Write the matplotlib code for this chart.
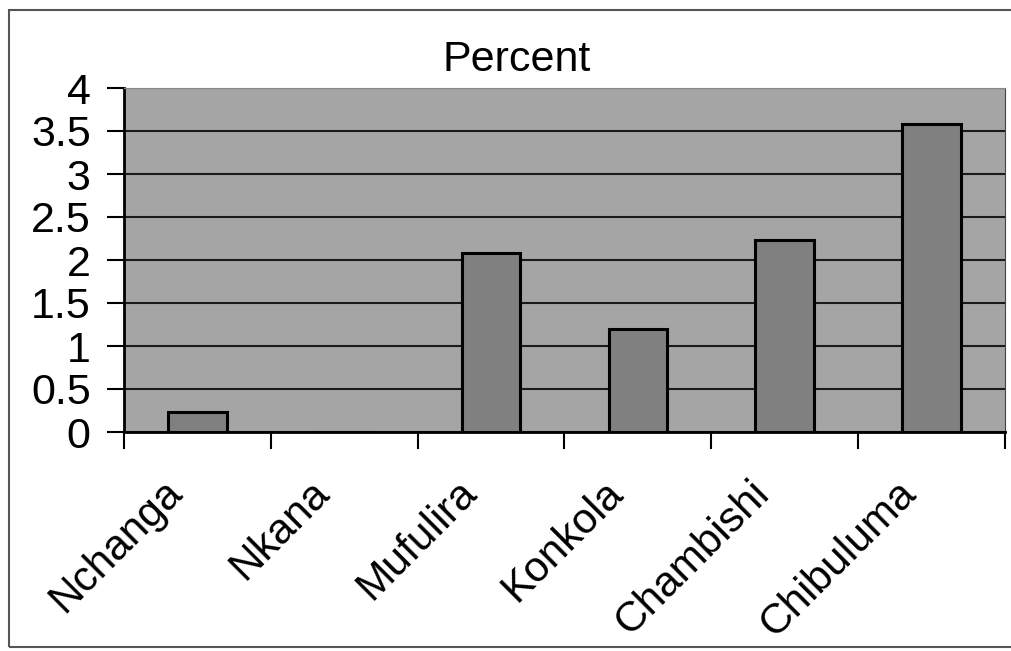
import matplotlib.pyplot as plt
from matplotlib.patches import Rectangle
from matplotlib.transforms import ScaledTranslation

plt.rcParams['font.family'] = ['Liberation Sans', 'DejaVu Sans']

mines = ['Nchanga', 'Nkana', 'Mufulira', 'Konkola', 'Chambishi', 'Chibuluma']
percent = [0.23, 0.0, 2.08, 1.2, 2.23, 3.58]
yticks = [0, 0.5, 1, 1.5, 2, 2.5, 3, 3.5, 4]
ytick_labels = ['0', '0.5', '1', '1.5', '2', '2.5', '3', '3.5', '4']

fig = plt.figure(figsize=(10.12, 6.51), dpi=100)
ax = fig.add_axes([124 / 1012, 1 - 432 / 651, (1005 - 124) / 1012, (432 - 88) / 651])
ax.set_facecolor('#a5a5a5')

x = list(range(len(mines)))
ax.bar(x, percent, width=0.4, color='#808080', edgecolor='black', linewidth=2.2, zorder=3)

ax.set_xlim(-0.5, len(mines) - 0.5)
ax.set_ylim(0, 4)
ax.set_yticks(yticks)
ax.set_yticklabels(ytick_labels, fontsize=31)
ax.yaxis.grid(True, color='#1a1a1a', linewidth=1.5, zorder=1)
ax.set_axisbelow(True)

# category labels sit between the boundary ticks
ax.set_xticks([i - 0.5 for i in range(len(mines) + 1)])
ax.set_xticklabels([])
ax.set_xticks(x, minor=True)
ax.set_xticklabels(mines, minor=True, fontsize=30.5, rotation=45,
                   ha='right', va='top', rotation_mode='anchor')
ax.tick_params(axis='x', which='minor', length=0, pad=14)
ax.tick_params(axis='x', which='major', length=12, width=1.5, direction='out')
ax.tick_params(axis='y', length=12, width=1.5, direction='out', pad=12)

shift = ScaledTranslation(-0.35, -0.21, fig.dpi_scale_trans)
for lbl in ax.get_xticklabels(minor=True):
    lbl.set_transform(lbl.get_transform() + shift)

for side in ['left', 'bottom']:
    ax.spines[side].set_linewidth(2)
ax.spines['top'].set_color('#888888')
ax.spines['right'].set_color('#444444')

fig.text(517 / 1012, 1 - 60 / 651, 'Percent', fontsize=31, ha='center', va='center')

# outer chart border
fig.patches.append(Rectangle((9 / 1012, 4 / 651), 1.1, 1 - 14 / 651,
                             transform=fig.transFigure, fill=False,
                             edgecolor='#555555', linewidth=1.5))

fig.savefig('out.png', dpi=100)
